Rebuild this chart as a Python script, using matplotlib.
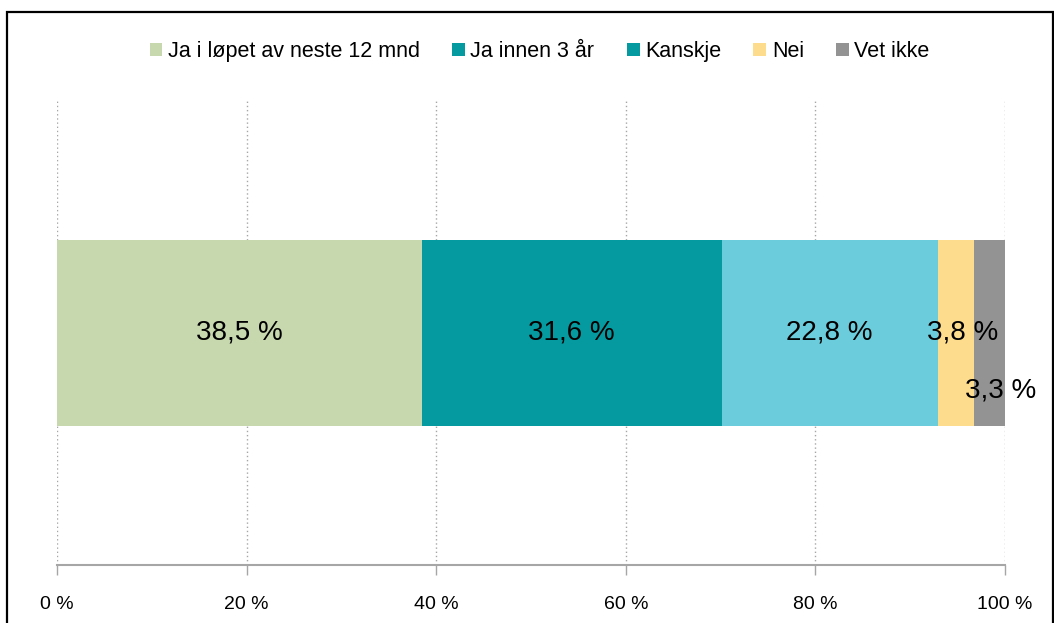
import matplotlib
matplotlib.use("Agg")
import matplotlib.pyplot as plt
from matplotlib.patches import Rectangle, Patch

plt.rcParams['font.family'] = ['Liberation Sans', 'DejaVu Sans']

# data
categories = ["Ja i løpet av neste 12 mnd", "Ja innen 3 år", "Kanskje", "Nei", "Vet ikke"]
values = [38.5, 31.6, 22.8, 3.8, 3.3]
bar_colors = ["#C8D8AE", "#049A9F", "#6BCCDB", "#FDDC8E", "#939393"]
legend_colors = ["#C8D8AE", "#049A9F", "#049A9F", "#FDDC8E", "#939393"]
tick_vals = [0, 20, 40, 60, 80, 100]
tick_labels = ["0 %", "20 %", "40 %", "60 %", "80 %", "100 %"]

fig = plt.figure(figsize=(10.54, 6.23), dpi=100)
ax = fig.add_axes([57 / 1054, 1 - 565 / 623, 948 / 1054, 465 / 623])

left = 0
for i, (v, c) in enumerate(zip(values, bar_colors)):
    ax.barh(0, v, left=left, height=0.4, color=c, zorder=2)
    label = f"{v:.1f} %".replace(".", ",")
    cx = left + v / 2
    if i == len(values) - 1:
        # siste etikett er flyttet ned og til høyre
        ax.annotate(label, (cx, 0), xytext=(8, -42), textcoords="offset points",
                    ha="center", va="center", fontsize=20, zorder=3)
    else:
        if i == 3:
            cx = cx + 0.7
        ax.text(cx, 0, label, ha="center", va="center", fontsize=20, zorder=3)
    left += v

ax.set_xlim(0, 100)
ax.set_ylim(-0.5, 0.5)
ax.set_xticks(tick_vals)
ax.set_xticklabels(tick_labels, fontsize=14)
ax.set_yticks([])
ax.grid(axis="x", color="#A6A6A6", linestyle=(0, (1, 2)), linewidth=1, zorder=0)
for s in ["top", "right", "left"]:
    ax.spines[s].set_visible(False)
ax.spines["bottom"].set_color("#A6A6A6")
ax.spines["bottom"].set_linewidth(1.5)
ax.tick_params(axis="x", direction="out", length=7, width=1, color="#A6A6A6", pad=15)

handles = [Patch(facecolor=c, edgecolor="none") for c in legend_colors]
fig.legend(handles, categories, loc="center", bbox_to_anchor=(0.512, 0.917), ncol=5,
           frameon=False, fontsize=15.5, handlelength=0.6, handleheight=0.6,
           handletextpad=0.25, columnspacing=1.5)

# ramme rundt figuren
fig.patches.append(Rectangle((7 / 1054, -0.02), 1046 / 1054, 1 - 12 / 623 + 0.02,
                             transform=fig.transFigure, fill=False,
                             edgecolor="black", linewidth=1.6))

fig.savefig("out.png", dpi=100)
